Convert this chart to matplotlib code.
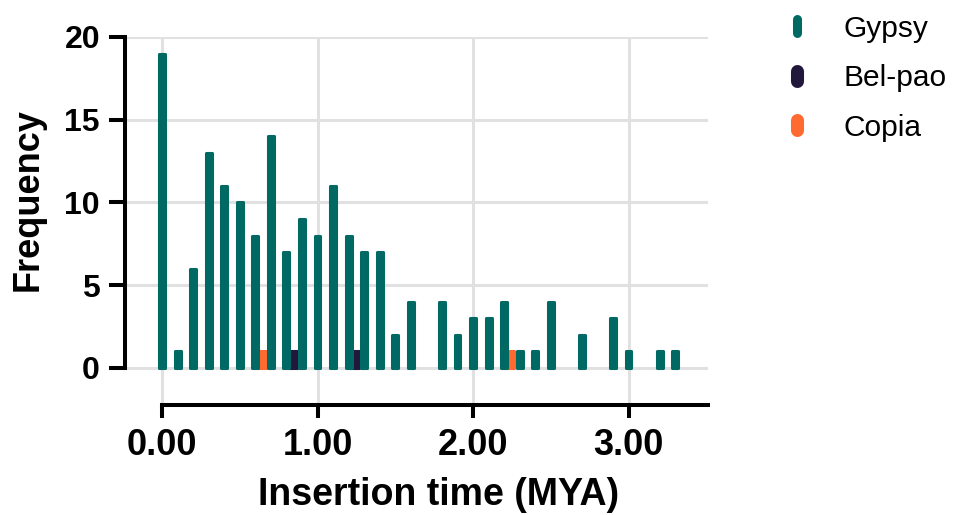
import matplotlib
matplotlib.use("Agg")
import matplotlib.pyplot as plt
from matplotlib.lines import Line2D
from matplotlib.markers import MarkerStyle

plt.rcParams['font.family'] = ['Liberation Sans', 'DejaVu Sans']

# Data
gypsy_x = [0.0, 0.1, 0.2, 0.3, 0.4, 0.5, 0.6, 0.7, 0.8, 0.9, 1.0, 1.1, 1.2, 1.3, 1.4,
           1.5, 1.6, 1.8, 1.9, 2.0, 2.1, 2.2, 2.3, 2.4, 2.5, 2.7, 2.9, 3.0, 3.2, 3.3]
gypsy_y = [19, 1, 6, 13, 11, 10, 8, 14, 7, 9, 8, 11, 8, 7, 7,
           2, 4, 4, 2, 3, 3, 4, 1, 1, 4, 2, 3, 1, 1, 1]
belpao_x = [0.8, 1.2]
belpao_y = [1, 1]
copia_x = [0.6, 2.2]
copia_y = [1, 1]

xticks = [0, 1, 2, 3]
xticklabels = ["0.00", "1.00", "2.00", "3.00"]
yticks = [0, 5, 10, 15, 20]

c_gypsy = "#006964"
c_belpao = "#22183C"
c_copia = "#FF6A30"

W, H = 957, 515
fig = plt.figure(figsize=(W / 100, H / 100), dpi=100)
L, R, T, B = 125, 708, 37, 405
ax = fig.add_axes([L / W, 1 - B / H, (R - L) / W, (B - T) / H])

ax.set_xlim(-0.238, 3.511)
ax.set_ylim(-2.24, 20)

lw_edge = 2.2
offset = 0.038
ax.bar([x + offset for x in belpao_x], belpao_y, width=0.055, color=c_belpao,
       edgecolor=c_belpao, linewidth=lw_edge, joinstyle='round', zorder=2)
ax.bar([x + offset for x in copia_x], copia_y, width=0.055, color=c_copia,
       edgecolor=c_copia, linewidth=lw_edge, joinstyle='round', zorder=2)
ax.bar(gypsy_x, gypsy_y, width=0.038, color=c_gypsy,
       edgecolor=c_gypsy, linewidth=lw_edge, joinstyle='round', zorder=3)

ax.set_xticks(xticks)
ax.set_xticklabels(xticklabels)
ax.set_yticks(yticks)

ax.grid(True, color="#E1E1E1", linewidth=2.2, zorder=0)
ax.set_axisbelow(True)

for s in ['top', 'right']:
    ax.spines[s].set_visible(False)
ax.spines['left'].set_bounds(0, 20)
ax.spines['bottom'].set_bounds(0, 3.511)
for s in ['left', 'bottom']:
    ax.spines[s].set_linewidth(2.9)
    ax.spines[s].set_color('black')
    ax.spines[s].set_capstyle('projecting')

ax.tick_params(axis='y', length=11.5, width=2.9, pad=6.5, labelsize=23)
ax.tick_params(axis='x', length=9.5, width=2.9, pad=7, labelsize=26)
for lab in ax.get_xticklabels() + ax.get_yticklabels():
    lab.set_fontweight('bold')

ax.set_xlabel("Insertion time (MYA)", fontsize=27, fontweight='bold')
ax.xaxis.set_label_coords((439 - L) / (R - L), -(495 - B) / (B - T))
ax.xaxis.label.set_va('center')
ax.set_ylabel("Frequency", fontsize=26, fontweight='bold')
ax.yaxis.set_label_coords(-(L - 28) / (R - L), (B - 200) / (B - T))
ax.yaxis.label.set_va('center')

def handle(color, ms, mew):
    return Line2D([0], [0], linestyle='none',
                  marker=MarkerStyle('|', capstyle='round'),
                  markersize=ms, markeredgewidth=mew, color=color)

handles = [handle(c_gypsy, 9.4, 6.5), handle(c_belpao, 6.5, 9.4), handle(c_copia, 6.5, 9.4)]
fig.legend(handles, ["Gypsy", "Bel-pao", "Copia"], loc='upper left',
           bbox_to_anchor=(767 / W, 1 + 0 / H), frameon=False, fontsize=21.5,
           handlelength=1.0, handletextpad=1.07, labelspacing=0.72, borderpad=0)

fig.savefig("out.png", dpi=100)
